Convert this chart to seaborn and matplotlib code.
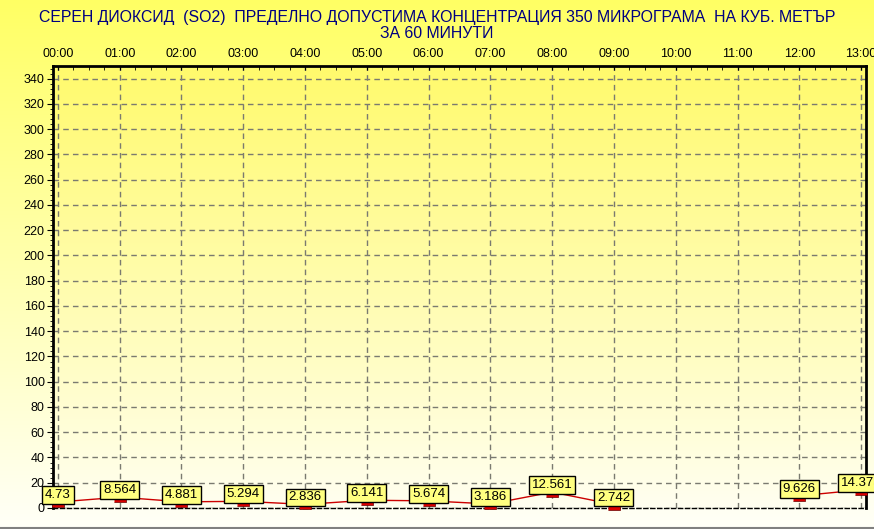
import numpy as np
import pandas as pd
import matplotlib
matplotlib.use("Agg")
import matplotlib.pyplot as plt
import seaborn as sns
from matplotlib.ticker import MultipleLocator

plt.rcParams['font.family'] = ['Liberation Sans', 'DejaVu Sans']

# donnees
heures = ["00:00", "01:00", "02:00", "03:00", "04:00", "05:00", "06:00",
          "07:00", "08:00", "09:00", "10:00", "11:00", "12:00", "13:00"]
valeurs = [4.73, 8.564, 4.881, 5.294, 2.836, 6.141, 5.674,
           3.186, 12.561, 2.742, np.nan, np.nan, 9.626, 14.375]
etiquettes = ["4.73", "8.564", "4.881", "5.294", "2.836", "6.141", "5.674",
              "3.186", "12.561", "2.742", "", "", "9.626", "14.375"]
titre = ("СЕРЕН ДИОКСИД  (SO2)  ПРЕДЕЛНО ДОПУСТИМА КОНЦЕНТРАЦИЯ 350 МИКРОГРАМА  НА КУБ. МЕТЪР\n"
         "ЗА 60 МИНУТИ")

df = pd.DataFrame({"x": range(len(heures)), "val": valeurs, "lab": etiquettes})
df["segment"] = df["val"].isna().cumsum()

W, H = 874, 529
fig = plt.figure(figsize=(W / 100, H / 100), dpi=100)

# fond degrade jaune
bg = fig.add_axes([0, 0, 1, 1], zorder=-10)
grad = np.linspace(0, 1, 256)[:, None]
haut = np.array([255, 255, 100]) / 255
bas = np.array([255, 255, 248]) / 255
img = haut[None, None, :] * (1 - grad[:, :, None]) + bas[None, None, :] * grad[:, :, None]
bg.imshow(img, aspect="auto", extent=[0, 1, 0, 1])
bg.axhline(1 / H, color="#808080", lw=1.5)
bg.set_xlim(0, 1)
bg.set_ylim(0, 1)
bg.axis("off")

ax = fig.add_axes([53 / W, (H - 508) / H, 813 / W, 442 / H])
ax.set_xlim(-0.08, 13.08)
ax.set_ylim(0, 350)

haut2 = np.array([255, 250, 108]) / 255
bas2 = np.array([255, 255, 240]) / 255
img2 = haut2[None, None, :] * (1 - grad[:, :, None]) + bas2[None, None, :] * grad[:, :, None]
ax.imshow(img2, aspect="auto", extent=[-0.08, 13.08, 0, 350], zorder=0)

ax.grid(True, color="#7a7a70", ls=(0, (4, 3)), lw=1, zorder=1)

# ligne rouge, coupee la ou il manque des valeurs
for s, d in df.dropna().groupby("segment"):
    sns.lineplot(data=d, x="x", y="val", ax=ax, color="#CC0000", lw=1,
                 zorder=3, legend=False)

rect = [(-1, -0.8), (1, -0.8), (1, 0.8), (-1, 0.8)]
sns.scatterplot(data=df.dropna(), x="x", y="val", ax=ax, marker=rect, s=70,
                color="#DD0000", edgecolor="#660000", linewidth=0.5,
                zorder=4, legend=False, clip_on=False)

for _, r in df.dropna().iterrows():
    ax.annotate(r["lab"], (r["x"], r["val"]), xytext=(0, 1),
                textcoords="offset pixels", ha="center", va="bottom",
                fontsize=9.5, zorder=5, annotation_clip=False,
                bbox=dict(boxstyle="square,pad=0.22", fc="#FFFF80",
                          ec="black", lw=1))

ax.set_xticks(range(len(heures)))
ax.set_xticklabels(heures)
ax.xaxis.set_minor_locator(MultipleLocator(0.25))
ax.xaxis.tick_top()
ax.tick_params(axis="x", which="both", direction="in", length=3,
               labelsize=9, pad=4)
ax.set_yticks(range(0, 341, 20))
ax.yaxis.set_minor_locator(MultipleLocator(4))
ax.tick_params(axis="y", which="major", length=4, labelsize=9, pad=2)
ax.tick_params(axis="y", which="minor", length=2)
ax.set_xlabel("")
ax.set_ylabel("")

for cote in ["left", "top", "right"]:
    ax.spines[cote].set_linewidth(2)
ax.spines["bottom"].set_linestyle((0, (3, 2)))
ax.spines["bottom"].set_linewidth(1)

fig.text(0.5, 1 - 25.5 / H, titre, ha="center", va="center", fontsize=11.4,
         color="#000080", linespacing=1.1)

fig.savefig("out.png", dpi=100)
